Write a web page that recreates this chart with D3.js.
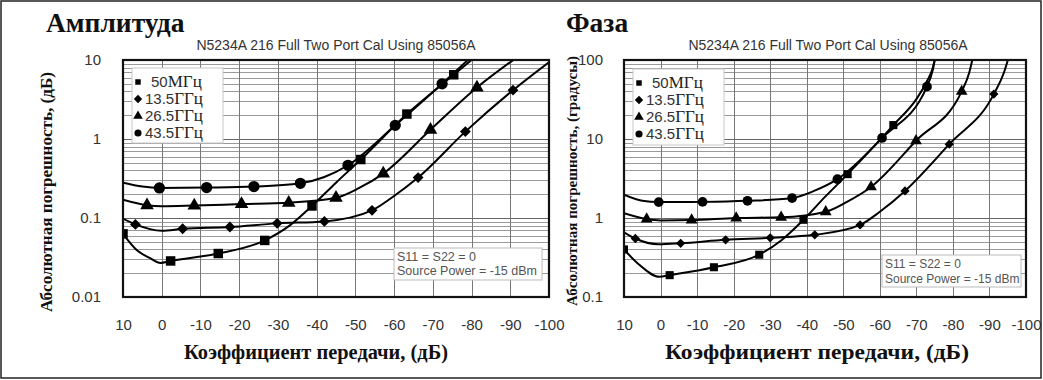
<!DOCTYPE html>
<html><head><meta charset="utf-8">
<script src="https://cdn.jsdelivr.net/npm/d3@7"></script>
<style>body{margin:0;background:#fff}svg{display:block}</style>
</head><body>
<svg id="c" width="1043" height="380"></svg>
<script>
// ---------- DATA ----------
const xTickValues = [10, 0, -10, -20, -30, -40, -50, -60, -70, -80, -90, -100];
const xTickLabels = ["10", "0", "-10", "-20", "-30", "-40", "-50", "-60", "-70", "-80", "-90", "-100"];
const ampYTicks = [10, 1, 0.1, 0.01];
const ampYTickLabels = ["10", "1", "0.1", "0.01"];
const phaseYTicks = [100, 10, 1, 0.1];
const phaseYTickLabels = ["100", "10", "1", "0.1"];
const legendNums = ["50", "13.5", "26.5", "43.5"];
const legendUnits = ["МГц", "ГГц", "ГГц", "ГГц"];
const seriesShapes = ["square", "diamond", "triangle", "circle"];
const noteLines = ["S11 = S22 = 0", "Source Power = -15 dBm"];

// Amplitude (dB error) vs transmission (dB)
const amp50Line = [[10,0.063],[6.4,0.039],[3,0.031],[0.3,0.027],[-2.3,0.0286],[-14.6,0.0355],[-26.6,0.052],[-33,0.08],[-38.8,0.142],[-45,0.28],[-51.4,0.55],[-63.3,2.07],[-75.4,6.5],[-81,11]];
const amp50Marks = [[10,0.063],[-2.3,0.0286],[-14.6,0.0355],[-26.6,0.052],[-38.8,0.142],[-51.4,0.55],[-63.3,2.07],[-75.4,6.5]];
const amp135Line = [[10,0.098],[6.8,0.083],[0,0.069],[-5.4,0.073],[-17.6,0.077],[-29.8,0.0855],[-42,0.0906],[-54.3,0.125],[-60,0.19],[-66.2,0.325],[-78.4,1.24],[-90.7,4.15],[-100,9.4]];
const amp135Marks = [[6.8,0.083],[-5.4,0.073],[-17.6,0.077],[-29.8,0.0855],[-42,0.0906],[-54.3,0.125],[-66.2,0.325],[-78.4,1.24],[-90.7,4.15]];
const amp265Line = [[10,0.17],[3.8,0.145],[0,0.141],[-8.4,0.144],[-20.6,0.15],[-32.8,0.156],[-45,0.18],[-51,0.24],[-57.2,0.365],[-69.4,1.31],[-81.4,4.48],[-91,10.2]];
const amp265Marks = [[3.8,0.145],[-8.4,0.144],[-20.6,0.15],[-32.8,0.156],[-45,0.18],[-57.2,0.365],[-69.4,1.31],[-81.4,4.48]];
const amp435Line = [[10,0.28],[5,0.25],[0.6,0.24],[-11.6,0.243],[-23.8,0.25],[-35.8,0.275],[-42,0.33],[-48.1,0.465],[-60.3,1.49],[-72.4,5.0],[-79.5,10.5]];
const amp435Marks = [[0.6,0.24],[-11.6,0.243],[-23.8,0.25],[-35.8,0.275],[-48.1,0.465],[-60.3,1.49],[-72.4,5.0]];

// Phase (degrees error) vs transmission (dB)
const ph50Line = [[10,0.40],[6,0.26],[0.3,0.18],[-2.5,0.189],[-14.6,0.238],[-27,0.343],[-33,0.52],[-39.1,0.95],[-45,1.85],[-51.2,3.59],[-63.7,15],[-70,32],[-73,55],[-74.5,80],[-75.2,110]];
const ph50Marks = [[10,0.40],[-2.5,0.189],[-14.6,0.238],[-27,0.343],[-39.1,0.95],[-51.2,3.59],[-63.7,15]];
const ph135Line = [[10,0.66],[6.9,0.55],[0.5,0.465],[-5.5,0.478],[-17.8,0.53],[-30,0.561],[-42.2,0.612],[-54.6,0.817],[-60,1.2],[-66.9,2.2],[-79,8.6],[-91.2,37],[-94,70],[-95.3,110]];
const ph135Marks = [[6.9,0.55],[-5.5,0.478],[-17.8,0.53],[-30,0.561],[-42.2,0.612],[-54.6,0.817],[-66.9,2.2],[-79,8.6],[-91.2,37]];
const ph265Line = [[10,1.15],[3.8,0.97],[0,0.93],[-8.5,0.94],[-20.7,1.0],[-33,1.02],[-45.2,1.2],[-51,1.6],[-57.6,2.47],[-69.9,9.5],[-82.4,40],[-84.5,70],[-85.5,110]];
const ph265Marks = [[3.8,0.97],[-8.5,0.94],[-20.7,1.0],[-33,1.02],[-45.2,1.2],[-57.6,2.47],[-69.9,9.5],[-82.4,40]];
const ph435Line = [[10,1.97],[5,1.65],[0.5,1.59],[-11.5,1.6],[-23.8,1.65],[-36,1.79],[-42,2.2],[-48.4,3.1],[-60.6,10.3],[-72.9,46],[-74.5,75],[-75.2,110]];
const ph435Marks = [[0.5,1.59],[-11.5,1.6],[-23.8,1.65],[-36,1.79],[-48.4,3.1],[-60.6,10.3],[-72.9,46]];

// ---------- DRAW ----------
const svg = d3.select("#c");
const SANS = "'Liberation Sans', Arial, sans-serif";
const SERIF = "'Liberation Serif', 'Times New Roman', serif";

svg.append("rect").attr("x",1).attr("y",1).attr("width",1040).attr("height",377)
  .attr("fill","#fff").attr("stroke","#222").attr("stroke-width",1.5);

function symbolPath(shape, size){
  const t = {square:d3.symbolSquare, diamond:(d3.symbolDiamond2||d3.symbolDiamond), triangle:d3.symbolTriangle, circle:d3.symbolCircle}[shape];
  return d3.symbol().type(t).size(size)();
}

function panel(cfg){
  const g = svg.append("g");
  const x = d3.scaleLinear().domain([10,-100]).range([cfg.x0,cfg.x1]);
  const y = d3.scaleLog().domain(cfg.yDomain).range([cfg.y1,cfg.y0]);
  const id = "clip"+cfg.key;
  svg.append("defs").append("clipPath").attr("id",id).append("rect")
    .attr("x",cfg.x0).attr("y",cfg.y0).attr("width",cfg.x1-cfg.x0).attr("height",cfg.y1-cfg.y0);

  // horizontal log grid
  const [lo,hi] = cfg.yDomain;
  const minor = [];
  for (let d = lo; d < hi*0.999; d *= 10) for (let m = 2; m <= 9; m++) minor.push(d*m);
  g.selectAll(".hmin").data(minor).join("line")
    .attr("x1",cfg.x0).attr("x2",cfg.x1).attr("y1",d=>Math.round(y(d))+0.5).attr("y2",d=>Math.round(y(d))+0.5)
    .attr("stroke","#9a9a9a").attr("stroke-width",1);
  g.selectAll(".hmaj").data(cfg.yTicks).join("line")
    .attr("x1",cfg.x0).attr("x2",cfg.x1).attr("y1",d=>Math.round(y(d))+0.5).attr("y2",d=>Math.round(y(d))+0.5)
    .attr("stroke","#666").attr("stroke-width",1);
  // vertical grid
  g.selectAll(".vg").data(xTickValues).join("line")
    .attr("x1",d=>Math.round(x(d))+0.5).attr("x2",d=>Math.round(x(d))+0.5).attr("y1",cfg.y0).attr("y2",cfg.y1)
    .attr("stroke","#777").attr("stroke-width",1);

  // axes labels
  const xa = g.append("g").attr("transform",`translate(0,${cfg.xLabelY})`)
    .call(d3.axisBottom(x).tickValues(xTickValues).tickSize(0).tickFormat((d,i)=>xTickLabels[i]));
  xa.select(".domain").remove();
  xa.selectAll("text").attr("font-family",SANS).attr("font-size",15).attr("fill","#333").attr("dy","0");
  const ya = g.append("g").attr("transform",`translate(${cfg.yLabelX},0)`)
    .call(d3.axisLeft(y).tickValues(cfg.yTicks).tickSize(0).tickFormat((d,i)=>cfg.yTickLabels[i]));
  ya.select(".domain").remove();
  ya.selectAll("text").attr("font-family",SANS).attr("font-size",15).attr("fill","#333");

  // curves
  const line = d3.line().x(d=>x(d[0])).y(d=>y(d[1])).curve(d3.curveMonotoneX);
  const cg = g.append("g").attr("clip-path",`url(#${id})`);
  cfg.series.forEach((s,i)=>{
    cg.append("path").attr("d",line(s.line)).attr("fill","none").attr("stroke","#000").attr("stroke-width",2);
  });
  cfg.series.forEach((s,i)=>{
    const shape = seriesShapes[i];
    cg.selectAll(null).data(s.marks).join("path")
      .attr("transform",d=>`translate(${x(d[0])},${y(d[1])})`)
      .attr("d",symbolPath(shape, cfg.markSize[i])).attr("fill","#000");
  });

  // legend
  const L = cfg.legend;
  g.append("rect").attr("x",L.x).attr("y",L.y).attr("width",L.w).attr("height",L.h)
    .attr("fill","#fff").attr("stroke","#c8c8c8");
  legendNums.forEach((n,i)=>{
    const yy = L.y + 14 + i*L.dy;
    g.append("path").attr("transform",`translate(${L.x+6},${yy})`)
      .attr("d",symbolPath(seriesShapes[i], [30,45,40,40][i])).attr("fill","#000");
    const t = g.append("text").attr("x",L.x+ (i===0?19:13)).attr("y",yy+5);
    t.append("tspan").attr("font-family",SANS).attr("font-size",15).attr("fill","#333").text(n);
    t.append("tspan").attr("font-family",SERIF).attr("font-size",17).attr("fill","#222").text(legendUnits[i]);
  });

  // note box
  const N = cfg.note;
  g.append("rect").attr("x",N.x).attr("y",N.y).attr("width",N.w).attr("height",N.h)
    .attr("fill","#fff").attr("stroke","#bbb");
  noteLines.forEach((s,i)=>{
    g.append("text").attr("x",N.x+3).attr("y",N.y+13+i*N.dy).attr("font-family",SANS)
      .attr("font-size",N.fs).attr("fill","#555").text(s);
  });

  // frame
  g.append("rect").attr("x",cfg.x0).attr("y",cfg.y0).attr("width",cfg.x1-cfg.x0).attr("height",cfg.y1-cfg.y0)
    .attr("fill","none").attr("stroke","#111").attr("stroke-width",2.2);

  // titles
  g.append("text").attr("x",cfg.titleX).attr("y",32).attr("font-family",SERIF).attr("font-weight","bold")
    .attr("font-size",27.5).attr("fill","#111").text(cfg.title);
  g.append("text").attr("x",cfg.subX).attr("y",50).attr("text-anchor","middle").attr("font-family",SANS)
    .attr("font-size",14).attr("fill","#333").text("N5234A 216 Full Two Port Cal Using 85056A");
  g.append("text").attr("transform",`translate(${cfg.yTitleX},${cfg.yTitleY}) rotate(-90)`)
    .attr("text-anchor","middle").attr("font-family",SERIF).attr("font-weight","bold")
    .attr("font-size",cfg.yTitleSize).attr("fill","#111")
    .attr("textLength",cfg.yTitleLen).attr("lengthAdjust","spacingAndGlyphs").text(cfg.yTitle);
  g.append("text").attr("x",cfg.xTitleX).attr("y",359).attr("text-anchor","middle").attr("font-family",SERIF)
    .attr("font-weight","bold").attr("font-size",cfg.xTitleSize).attr("fill","#111")
    .attr("textLength",cfg.xTitleLen).attr("lengthAdjust","spacingAndGlyphs").text("Коэффициент передачи, (дБ)");
}

panel({
  key:"amp", x0:123, x1:549, y0:60, y1:297, yDomain:[0.01,10],
  yTicks:ampYTicks, yTickLabels:ampYTickLabels, xLabelY:327, yLabelX:104,
  series:[{line:amp50Line,marks:amp50Marks},{line:amp135Line,marks:amp135Marks},{line:amp265Line,marks:amp265Marks},{line:amp435Line,marks:amp435Marks}],
  markSize:[90,75,80,100],
  legend:{x:132,y:68,w:91,h:75,dy:17},
  note:{x:394,y:248,w:148,h:32,dy:14,fs:12.5},
  title:"Амплитуда", titleX:46, subX:336,
  yTitle:"Абсолютная погрешность, (дБ)", yTitleX:52, yTitleY:192, yTitleSize:16.5, yTitleLen:240,
  xTitleX:316, xTitleSize:20, xTitleLen:264
});
panel({
  key:"ph", x0:624, x1:1026, y0:60, y1:297, yDomain:[0.1,100],
  yTicks:phaseYTicks, yTickLabels:phaseYTickLabels, xLabelY:327, yLabelX:606,
  series:[{line:ph50Line,marks:ph50Marks},{line:ph135Line,marks:ph135Marks},{line:ph265Line,marks:ph265Marks},{line:ph435Line,marks:ph435Marks}],
  markSize:[65,55,60,75],
  legend:{x:633,y:69,w:91,h:76,dy:17},
  note:{x:882,y:255,w:139,h:32,dy:15,fs:12},
  title:"Фаза", titleX:566, subX:828,
  yTitle:"Абсолютная погрешность, (градусы)", yTitleX:577, yTitleY:181, yTitleSize:14, yTitleLen:250,
  xTitleX:817, xTitleSize:21, xTitleLen:304
});
</script>
</body></html>
